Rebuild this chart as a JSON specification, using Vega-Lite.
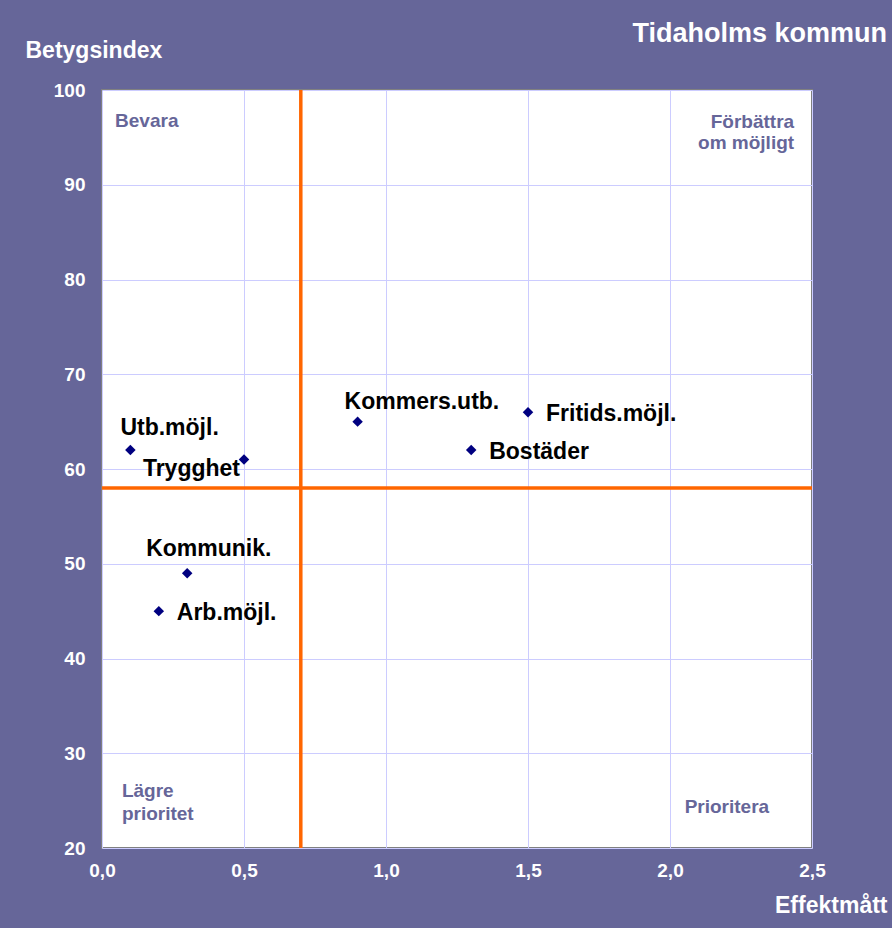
{
  "$schema": "https://vega.github.io/schema/vega-lite/v6.json",
  "width": 710,
  "height": 758,
  "autosize": {"type": "none"},
  "padding": {"left": 102, "top": 90, "right": 80, "bottom": 80},
  "background": "#666699",
  "config": {
    "view": {"fill": "white", "stroke": "#808080", "strokeWidth": 2},
    "font": "Liberation Sans"
  },
  "title": {
    "text": "Tidaholms kommun",
    "anchor": "end",
    "frame": "group",
    "dx": 75,
    "dy": 30,
    "offset": 0,
    "baseline": "alphabetic",
    "fontSize": 27,
    "fontWeight": "bold",
    "color": "white",
    "font": "Liberation Sans"
  },
  "datasets": {
    "pts": [
      {"name": "Utb.möjl.", "effekt": 0.1, "index": 62},
      {"name": "Trygghet", "effekt": 0.5, "index": 61},
      {"name": "Kommers.utb.", "effekt": 0.9, "index": 65},
      {"name": "Fritids.möjl.", "effekt": 1.5, "index": 66},
      {"name": "Bostäder", "effekt": 1.3, "index": 62},
      {"name": "Kommunik.", "effekt": 0.3, "index": 49},
      {"name": "Arb.möjl.", "effekt": 0.2, "index": 45}
    ],
    "one": [{}]
  },
  "layer": [
    {
      "data": {"name": "pts"},
      "mark": {"type": "point", "opacity": 0},
      "encoding": {
        "x": {
          "field": "effekt", "type": "quantitative",
          "scale": {"domain": [0, 2.5], "nice": false, "zero": false},
          "axis": {
            "values": [0, 0.5, 1, 1.5, 2, 2.5],
            "labelExpr": "replace(format(datum.value, '.1f'), '.', ',')",
            "labelColor": "white", "labelFontSize": 19, "labelFontWeight": "bold", "labelFont": "Liberation Sans",
            "labelPadding": 13, "labelFlush": false,
            "ticks": false, "domain": false,
            "grid": true, "gridColor": "#ccccff", "gridWidth": 1,
            "title": "Effektmått",
            "titleColor": "white", "titleFontSize": 23, "titleFontWeight": "bold", "titleFont": "Liberation Sans",
            "titleX": 785, "titleY": 64, "titleAlign": "right", "titleBaseline": "alphabetic", "titleAnchor": null
          }
        },
        "y": {
          "field": "index", "type": "quantitative",
          "scale": {"domain": [20, 100], "nice": false, "zero": false},
          "axis": {
            "values": [20, 30, 40, 50, 60, 70, 80, 90, 100],
            "labelColor": "white", "labelFontSize": 19, "labelFontWeight": "bold", "labelFont": "Liberation Sans",
            "labelPadding": 17, "labelFlush": false,
            "ticks": false, "domain": false,
            "grid": true, "gridColor": "#ccccff", "gridWidth": 1,
            "title": "Betygsindex",
            "titleColor": "white", "titleFontSize": 23, "titleFontWeight": "bold", "titleFont": "Liberation Sans",
            "titleAngle": 0, "titleX": -77, "titleY": -33, "titleAlign": "left", "titleBaseline": "alphabetic", "titleAnchor": null
          }
        }
      }
    },
    {
      "data": {"name": "one"},
      "mark": {"type": "rule", "color": "#ff6600", "strokeWidth": 3.5},
      "encoding": {"x": {"datum": 0.7, "type": "quantitative"}}
    },
    {
      "data": {"name": "one"},
      "mark": {"type": "rule", "color": "#ff6600", "strokeWidth": 3.5},
      "encoding": {"y": {"datum": 58, "type": "quantitative"}}
    },
    {
      "data": {"name": "pts"},
      "mark": {"type": "point", "shape": "diamond", "filled": true, "color": "#000080", "size": 110, "opacity": 1},
      "encoding": {
        "x": {"field": "effekt", "type": "quantitative"},
        "y": {"field": "index", "type": "quantitative"}
      }
    },
    {
      "data": {"name": "pts"},
      "transform": [{"filter": {"field": "name", "oneOf": ["Fritids.möjl.", "Bostäder", "Arb.möjl."]}}],
      "mark": {"type": "text", "align": "left", "baseline": "alphabetic", "dx": 18, "dy": 9, "fontSize": 23, "fontWeight": "bold", "color": "black"},
      "encoding": {
        "x": {"field": "effekt", "type": "quantitative"},
        "y": {"field": "index", "type": "quantitative"},
        "text": {"field": "name"}
      }
    },
    {
      "data": {"name": "pts"},
      "transform": [{"filter": {"field": "name", "equal": "Utb.möjl."}}],
      "mark": {"type": "text", "align": "left", "baseline": "alphabetic", "dx": -10, "dy": -15, "fontSize": 23, "fontWeight": "bold", "color": "black"},
      "encoding": {
        "x": {"field": "effekt", "type": "quantitative"},
        "y": {"field": "index", "type": "quantitative"},
        "text": {"field": "name"}
      }
    },
    {
      "data": {"name": "pts"},
      "transform": [{"filter": {"field": "name", "equal": "Trygghet"}}],
      "mark": {"type": "text", "align": "right", "baseline": "alphabetic", "dx": -4, "dy": 16, "fontSize": 23, "fontWeight": "bold", "color": "black"},
      "encoding": {
        "x": {"field": "effekt", "type": "quantitative"},
        "y": {"field": "index", "type": "quantitative"},
        "text": {"field": "name"}
      }
    },
    {
      "data": {"name": "pts"},
      "transform": [{"filter": {"field": "name", "equal": "Kommers.utb."}}],
      "mark": {"type": "text", "align": "left", "baseline": "alphabetic", "dx": -13, "dy": -13, "fontSize": 23, "fontWeight": "bold", "color": "black"},
      "encoding": {
        "x": {"field": "effekt", "type": "quantitative"},
        "y": {"field": "index", "type": "quantitative"},
        "text": {"field": "name"}
      }
    },
    {
      "data": {"name": "pts"},
      "transform": [{"filter": {"field": "name", "equal": "Kommunik."}}],
      "mark": {"type": "text", "align": "left", "baseline": "alphabetic", "dx": -41, "dy": -17, "fontSize": 23, "fontWeight": "bold", "color": "black"},
      "encoding": {
        "x": {"field": "effekt", "type": "quantitative"},
        "y": {"field": "index", "type": "quantitative"},
        "text": {"field": "name"}
      }
    },
    {
      "data": {"name": "one"},
      "mark": {"type": "text", "align": "left", "baseline": "alphabetic", "fontSize": 19, "fontWeight": "bold", "color": "#666699"},
      "encoding": {
        "x": {"datum": 0.046, "type": "quantitative"},
        "y": {"datum": 96.1, "type": "quantitative"},
        "text": {"value": "Bevara"}
      }
    },
    {
      "data": {"name": "one"},
      "mark": {"type": "text", "align": "right", "baseline": "alphabetic", "fontSize": 19, "fontWeight": "bold", "color": "#666699", "lineHeight": 21},
      "encoding": {
        "x": {"datum": 2.437, "type": "quantitative"},
        "y": {"datum": 96.0, "type": "quantitative"},
        "text": {"value": ["Förbättra", "om möjligt"]}
      }
    },
    {
      "data": {"name": "one"},
      "mark": {"type": "text", "align": "left", "baseline": "alphabetic", "fontSize": 19, "fontWeight": "bold", "color": "#666699", "lineHeight": 23},
      "encoding": {
        "x": {"datum": 0.07, "type": "quantitative"},
        "y": {"datum": 25.4, "type": "quantitative"},
        "text": {"value": ["Lägre", "prioritet"]}
      }
    },
    {
      "data": {"name": "one"},
      "mark": {"type": "text", "align": "right", "baseline": "alphabetic", "fontSize": 19, "fontWeight": "bold", "color": "#666699"},
      "encoding": {
        "x": {"datum": 2.349, "type": "quantitative"},
        "y": {"datum": 23.7, "type": "quantitative"},
        "text": {"value": "Prioritera"}
      }
    }
  ]
}
